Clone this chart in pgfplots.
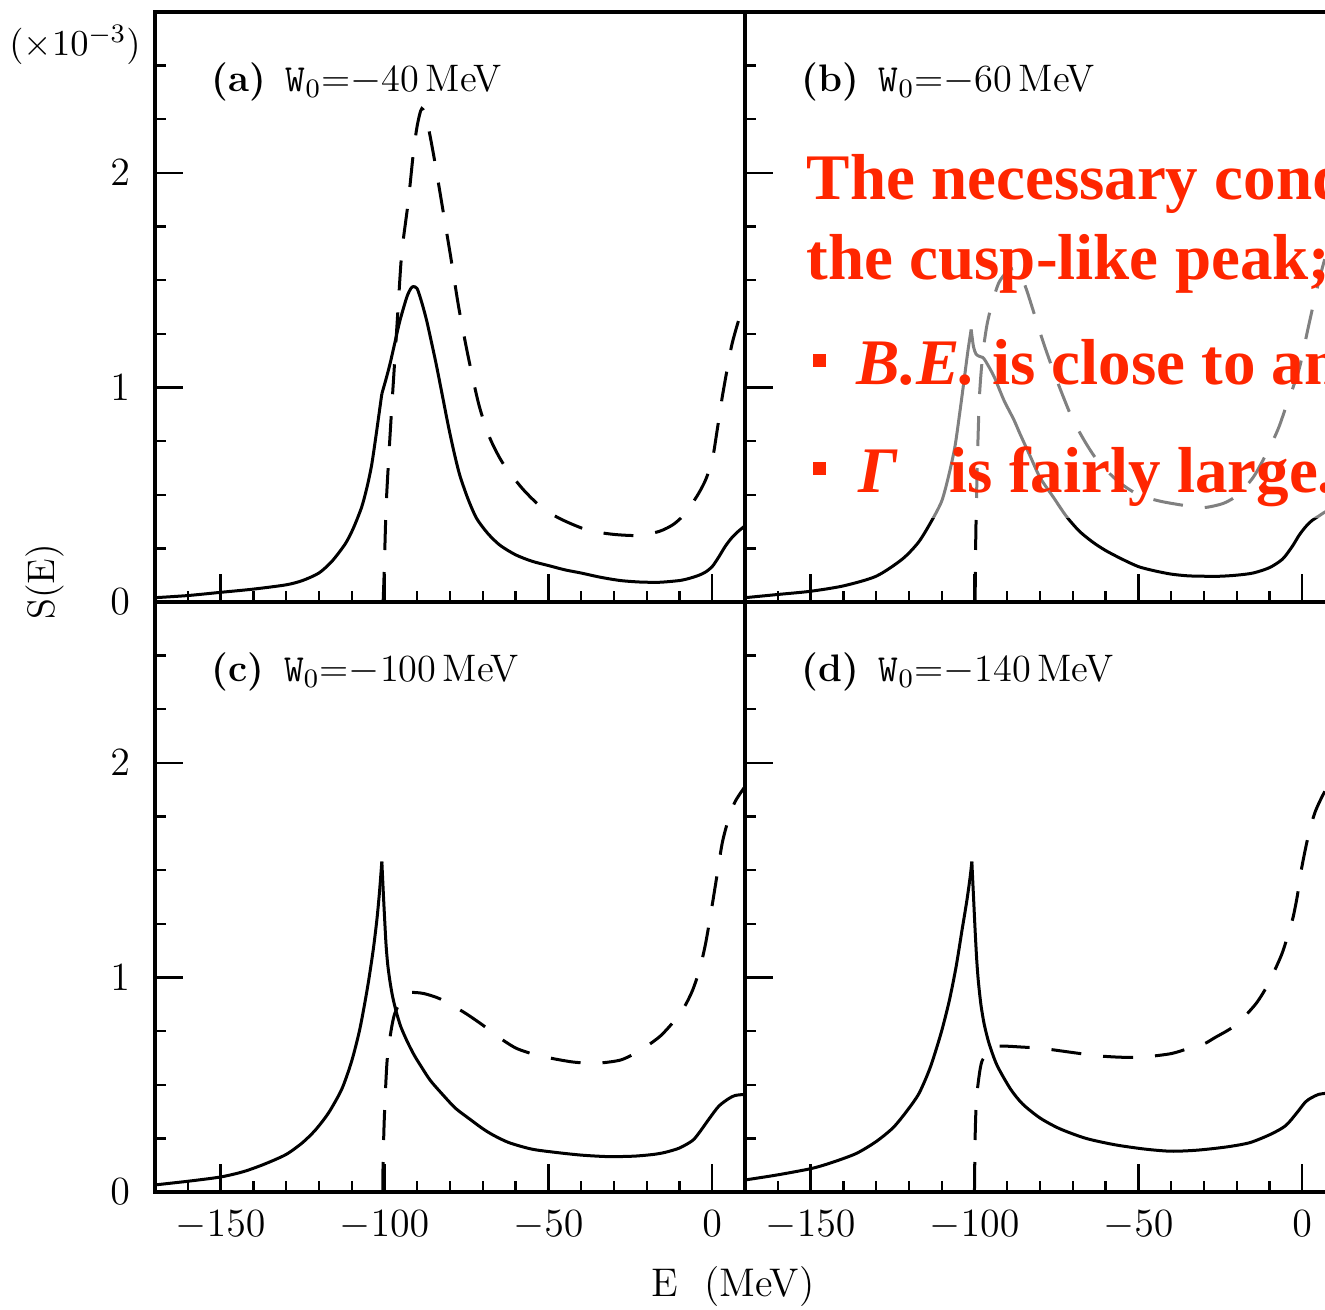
\documentclass[border=0pt]{standalone}
\usepackage{pgfplots}
\pgfplotsset{compat=1.18}
\usepackage{fontspec}
\newfontfamily\redfont{Liberation Serif}
\definecolor{redtxt}{RGB}{255,38,0}

\pgfplotsset{
  panel/.style={
    scale only axis, width=177pt, height=177pt,
    xmin=-170, xmax=10, ymin=0, ymax=2.75,
    axis line style={line width=1pt},
    tick align=inside,
    xtick={-150,-100,-50,0},
    minor xtick={-160,-140,-130,-120,-110,-90,-80,-70,-60,-40,-30,-20,-10},
    ytick={0,1,2},
    minor ytick={0.25,0.5,0.75,1.25,1.5,1.75,2.25,2.5},
    xtick pos=left, ytick pos=left,
    major tick length=8.5pt, minor tick length=3.2pt,
    tick style={black, line width=0.7pt},
    tick label style={font=\fontsize{11.5}{13}\selectfont},
    yticklabel style={xshift=-4pt},
    xticklabel style={yshift=-2pt},
    anchor=south west,
  },
  sol/.style={black, line width=0.9pt, line join=round, smooth, tension=0.45},
  dsh/.style={black, line width=0.9pt, dash pattern=on 9pt off 6.6pt, smooth, tension=0.45},
}
\newcommand{\plab}[2]{\node[anchor=base west, inner sep=0pt, font=\fontsize{11.5}{13}\selectfont] at (axis cs:-153,2.38) {\textbf{(#1)}\hspace{6pt}\texttt{W}$_{0}$=$-$#2\,MeV};}

\begin{document}
\begin{tikzpicture}
\useasboundingbox (0,0) rectangle (397.5pt,392.7pt);

% ---------------- (a) ----------------
\begin{axis}[panel, at={(46.5pt,212.1pt)}, xticklabels={}]
\addplot[sol] table {
-170 0.02
-160 0.03
-150 0.045
-140 0.06
-130 0.08
-125 0.10
-120 0.135
-116 0.19
-112 0.27
-109.6 0.34
-107 0.44
-105.4 0.53
-104 0.63
-102.9 0.74
-101.8 0.86
-100.8 0.97
};
\addplot[sol] table {
-100.8 0.97
-99.5 1.04
-98.3 1.11
-96.8 1.21
-95.3 1.31
-93.2 1.42
-92 1.46
-91.2 1.47
-90 1.46
-88.5 1.39
-87.1 1.31
-85.5 1.20
-84.1 1.10
-82.3 0.96
-80.5 0.82
-78.8 0.70
-77 0.59
-74.5 0.48
-71.9 0.39
-68.5 0.32
-64.8 0.265
-60 0.22
-55 0.19
-50 0.17
-45 0.15
-40 0.135
-34 0.115
-28 0.10
-22 0.093
-16 0.092
-10 0.10
-7 0.11
-4 0.125
-2 0.14
0 0.165
2 0.21
4 0.26
6 0.30
8 0.33
10 0.355
};
\addplot[dsh] table {
-100.4 0
-100.1 0.13
-99.5 0.44
-98.7 0.67
-97.8 0.90
-96.8 1.14
-95.8 1.38
-94.7 1.63
-92.7 1.87
-91.2 2.09
-90 2.22
-88.6 2.30
-87 2.24
-84.9 2.075
-82.2 1.83
-79.8 1.61
-77.3 1.37
-74.4 1.14
-71.2 0.92
-68 0.77
-64 0.65
-58 0.53
-52 0.44
-46 0.385
-38 0.335
-30 0.315
-22 0.31
-16 0.33
-12 0.36
-9 0.40
-6.5 0.45
-4 0.51
-2 0.57
0 0.66
1.5 0.80
3 0.95
4.5 1.08
6 1.20
8 1.31
10 1.40
};
\plab{a}{40}
\end{axis}

% ---------------- (b) ----------------
\begin{axis}[panel, at={(223.5pt,212.1pt)}, xticklabels={}, yticklabels={}]
\addplot[sol] table {
-170 0.02
-160 0.035
-150 0.05
-140 0.075
-130 0.12
-122 0.2
-117 0.28
-113 0.38
-110 0.47
-108 0.58
-106 0.72
-104.5 0.88
-103.2 1.03
-102 1.17
-101 1.27
};
\addplot[sol] table {
-101 1.27
-100.3 1.19
-99.5 1.155
-98.5 1.145
-97.5 1.14
-96.5 1.12
-94 1.05
-91 0.94
-88 0.85
-86 0.78
-83 0.68
-80 0.58
-76 0.49
-72 0.40
-68 0.33
-64 0.28
-60 0.24
-55 0.20
-50 0.165
-45 0.145
-40 0.13
-35 0.122
-30 0.12
-25 0.12
-20 0.125
-15 0.135
-10 0.16
-6 0.20
-3 0.26
-1 0.31
1 0.35
3 0.38
5 0.40
7 0.42
10 0.44
};
\addplot[dsh] table {
-99.8 0
-99.6 0.3
-99.2 0.6
-98.5 0.95
-97.5 1.15
-96.2 1.29
-94.5 1.40
-92.5 1.49
-90 1.54
-88 1.555
-86 1.53
-84 1.45
-81.5 1.33
-79 1.21
-76 1.08
-73 0.96
-70 0.85
-66 0.74
-62 0.65
-56 0.56
-50 0.50
-43.4 0.47
-36 0.45
-30 0.44
-24 0.46
-19.6 0.50
-15 0.58
-12 0.66
-9 0.75
-7 0.82
-4.5 0.93
-2.8 1.00
-0.7 1.10
1.7 1.27
3.9 1.42
6 1.55
8 1.66
10 1.77
};
\plab{b}{60}
\end{axis}

% ---------------- (c) ----------------
\begin{axis}[panel, at={(46.5pt,35.1pt)}]
\addplot[sol] table {
-170 0.033
-160 0.05
-150 0.07
-143 0.095
-136.6 0.13
-130 0.175
-125 0.23
-121 0.29
-117 0.37
-113 0.48
-110 0.61
-107.5 0.76
-105.2 0.95
-103.5 1.12
-102.3 1.27
-101.5 1.40
-100.8 1.54
};
\addplot[sol] table {
-100.8 1.54
-100.3 1.38
-99.9 1.26
-99.5 1.15
-99 1.06
-98.3 0.98
-97.5 0.91
-96.4 0.84
-95 0.77
-93 0.70
-91 0.64
-89 0.59
-86 0.52
-82 0.45
-78.3 0.39
-74 0.34
-70 0.295
-66.8 0.265
-62 0.23
-55.1 0.20
-48 0.185
-40 0.172
-31.8 0.165
-24 0.167
-18 0.175
-14.3 0.185
-10 0.205
-6 0.24
-3.8 0.28
-1 0.34
2 0.40
5 0.435
7 0.45
10 0.455
};
\addplot[dsh] table {
-100.5 0
-100.4 0.15
-100 0.36
-99.2 0.61
-98 0.75
-96.9 0.83
-95 0.89
-93.5 0.92
-91.7 0.93
-88 0.925
-83 0.90
-76 0.84
-70.2 0.78
-65 0.72
-59.8 0.67
-54 0.64
-48 0.62
-42 0.605
-35.4 0.60
-28 0.615
-22.5 0.655
-19 0.69
-15.6 0.73
-12 0.79
-8.6 0.86
-6 0.94
-3.8 1.04
-2 1.16
-0.3 1.31
1.5 1.48
3.1 1.63
5 1.74
7 1.82
10 1.89
};
\plab{c}{100}
\end{axis}

% ---------------- (d) ----------------
\begin{axis}[panel, at={(223.5pt,35.1pt)}, yticklabels={}]
\addplot[sol] table {
-170 0.056
-160 0.08
-149.6 0.11
-143 0.14
-136 0.18
-130 0.235
-124.8 0.30
-120.5 0.38
-116.9 0.46
-113.5 0.58
-110.2 0.74
-107.7 0.89
-105.6 1.05
-103.8 1.22
-102.3 1.36
-101.3 1.47
-100.8 1.54
};
\addplot[sol] table {
-100.8 1.54
-100.3 1.38
-99.8 1.22
-99.3 1.08
-98.8 0.98
-98 0.87
-97 0.78
-95.5 0.69
-93.1 0.59
-89 0.48
-85.3 0.41
-80 0.345
-74 0.295
-66 0.25
-57.1 0.22
-48 0.20
-40 0.19
-32 0.195
-23.1 0.21
-16 0.23
-9.5 0.27
-5 0.31
-1.6 0.37
1 0.42
2.9 0.44
5 0.455
7.2 0.46
10 0.465
};
\addplot[dsh] table {
-100 0
-99.8 0.25
-99.4 0.43
-98.5 0.55
-97.7 0.61
-96 0.65
-94.3 0.675
-91 0.68
-85 0.675
-79.7 0.67
-70 0.65
-62.6 0.635
-55 0.628
-48 0.63
-40 0.645
-34.5 0.67
-30 0.69
-26.6 0.72
-22 0.76
-18.7 0.80
-14 0.88
-10.9 0.955
-8.5 1.03
-6.2 1.11
-4.5 1.19
-2.8 1.28
-1.5 1.38
-0.3 1.50
1.7 1.65
3.9 1.77
7 1.87
10 1.93
};
\plab{d}{140}
\end{axis}

% ---------------- outer labels ----------------
\node[font=\fontsize{11}{13}\selectfont] at (22.5pt,379.2pt) {$(\times10^{-3})$};
\node[rotate=90, font=\fontsize{11.5}{13}\selectfont] at (13.5pt,218.1pt) {S(E)};
\node[font=\fontsize{12}{14}\selectfont] at (219.9pt,6.6pt) {E\ \ (MeV)};

% ---------------- overlay ----------------
\fill[white, opacity=0.5] (237pt,237.3pt) rectangle (397.5pt,350.7pt);
\begin{scope}[every node/.style={inner sep=0pt, anchor=base west, text=redtxt, font=\redfont\bfseries\fontsize{19.5}{22}\selectfont}]
\node at (241.8pt,332.7pt) {The necessary conditions for};
\node at (241.8pt,308.7pt) {the cusp-like peak;};
\node at (256.8pt,277.2pt) {\itshape B.E.\upshape\ is close to an};
\node at (257.4pt,244.8pt) {\itshape Γ};
\node at (284.7pt,244.8pt) {is fairly large.};
\end{scope}
\fill[redtxt] (243.9pt,282.45pt) rectangle (247.8pt,286.35pt);
\fill[redtxt] (243.9pt,250.2pt) rectangle (247.8pt,254.1pt);
\end{tikzpicture}
\end{document}
